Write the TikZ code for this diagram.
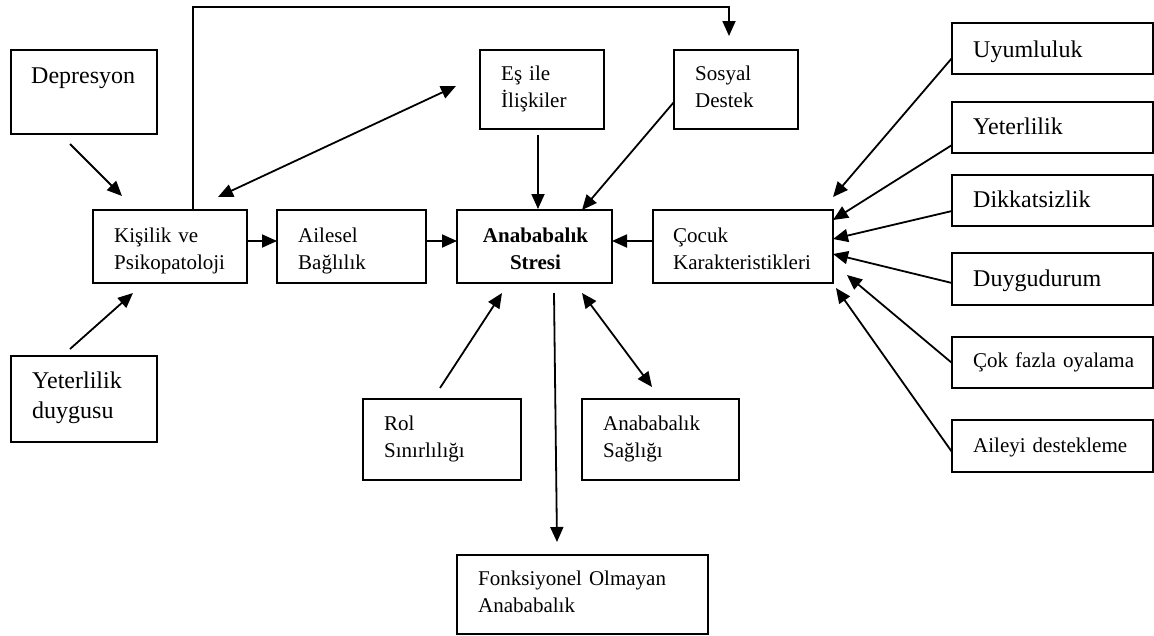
\documentclass[tikz,border=0pt]{standalone}
\usepackage{fontspec}
\setmainfont{Liberation Serif}
\usetikzlibrary{arrows.meta,calc}
\tikzset{
  box/.style={draw, line width=1.5pt, inner sep=0pt, outer sep=0pt, anchor=north west},
  small/.style={inner sep=0pt, anchor=base west, align=left, text width=230pt,
    font=\fontsize{21}{27.5}\selectfont},
  big/.style={inner sep=0pt, anchor=base west, align=left, text width=200pt,
    font=\fontsize{24}{30}\selectfont},
  conn/.style={line width=1.8pt, -{Triangle[length=15pt,width=13pt]}},
  bothconn/.style={line width=1.8pt, {Triangle[length=15pt,width=13pt]}-{Triangle[length=15pt,width=13pt]}},
}
\begin{document}
\begin{tikzpicture}[x=1pt,y=-1pt]
\useasboundingbox (0,0) rectangle (1154,635);

% boxes
\node[box, minimum width=146pt, minimum height=84pt] (dep) at (11,50) {};
\node[box, minimum width=154pt, minimum height=73pt] (kis) at (93,210) {};
\node[box, minimum width=149pt, minimum height=73pt] (ail) at (277,210) {};
\node[box, minimum width=155pt, minimum height=73pt] (ana) at (457,210) {};
\node[box, minimum width=180pt, minimum height=73pt] (coc) at (653,210) {};
\node[box, minimum width=124pt, minimum height=79pt] (es) at (480,50) {};
\node[box, minimum width=124pt, minimum height=79pt] (sos) at (674,50) {};
\node[box, minimum width=201pt, minimum height=51pt] (uy) at (952,23) {};
\node[box, minimum width=201pt, minimum height=51pt] (ye) at (952,102) {};
\node[box, minimum width=201pt, minimum height=51pt] (di) at (952,175) {};
\node[box, minimum width=201pt, minimum height=52pt] (du) at (952,253) {};
\node[box, minimum width=201pt, minimum height=51pt] (cf) at (952,337) {};
\node[box, minimum width=201pt, minimum height=52pt] (ad) at (952,420) {};
\node[box, minimum width=146pt, minimum height=86pt] (yd) at (11,356) {};
\node[box, minimum width=158pt, minimum height=81pt] (rol) at (363,399) {};
\node[box, minimum width=157pt, minimum height=81pt] (sag) at (582,399) {};
\node[box, minimum width=251pt, minimum height=79pt] (fon) at (457,555) {};

% texts
\node[big] (dept) at (31,83) {Depresyon};
\node[small] (kist) at (114,242) {Kişilik ve\\Psikopatoloji};
\node[small] (ailt) at (298,242) {Ailesel\\Bağlılık};
\node[inner sep=0pt, anchor=base, align=center, text width=150pt,
  font=\fontsize{21}{27.5}\selectfont\bfseries] (anat) at (535.5,242) {Anababalık\\Stresi};
\node[small] (coct) at (673,242) {Çocuk\\Karakteristikleri};
\node[small] (est) at (501,80) {Eş ile\\İlişkiler};
\node[small] (sost) at (695,80) {Sosyal\\Destek};
\node[big] (uyt) at (973,57) {Uyumluluk};
\node[big] (yet) at (973,134) {Yeterlilik};
\node[big] (dit) at (973,207) {Dikkatsizlik};
\node[big] (dut) at (973,286) {Duygudurum};
\node[small] (cft) at (973,367) {Çok fazla oyalama};
\node[small] (adt) at (973,452) {Aileyi destekleme};
\node[big] (ydt) at (32,388) {Yeterlilik\\duygusu};
\node[small] (rolt) at (384,430) {Rol\\Sınırlılığı};
\node[small] (sagt) at (603,430) {Anababalık\\Sağlığı};
\node[small] (font) at (478,585) {Fonksiyonel Olmayan\\Anababalık};

% connectors
\draw[conn] ($(dep.south west)+(59,10)$) -- ($(kis.north west)+(29,-14)$);
\draw[conn] ($(yd.north west)+(59,-7)$) -- ($(kis.south west)+(40,10)$);
\draw[bothconn] ($(kis.north west)+(125,-13)$) -- ($(es.north west)+(-24,36)$);
\draw[conn] ($(kis.north east)+(0,31)$) -- ($(ail.north west)+(0,31)$);
\draw[conn] ($(ail.north east)+(0,31)$) -- ($(ana.north west)+(0,31)$);
\draw[conn] ($(coc.north west)+(0,31)$) -- ($(ana.north east)+(0,31)$);
\draw[conn] ($(es.south west)+(58,6)$) -- ($(ana.north west)+(81,-1)$);
\draw[conn] ($(sos.north west)+(0,52)$) -- ($(ana.north west)+(125,0)$);
\coordinate (loopend) at ($(sos.north west)+(55,-14)$);
\draw[conn] ($(kis.north west)+(100,0)$) -- ++(0,-203) -| (loopend);
\draw[conn] ($(rol.north west)+(77,-11)$) -- ($(ana.south west)+(45,10)$);
\draw[conn] ($(ana.south west)+(97,10)$) -- ($(fon.north west)+(100,-13)$);
\draw[bothconn] ($(ana.south west)+(125,10)$) -- ($(sag.north west)+(70,-12)$);
\draw[conn] ($(uy.north west)+(0,35)$) -- ($(coc.north east)+(0,-13)$);
\draw[conn] ($(ye.north west)+(0,43)$) -- ($(coc.north east)+(0,10)$);
\draw[conn] ($(di.north west)+(0,36)$) -- ($(coc.north east)+(0,29)$);
\draw[conn] ($(du.north west)+(0,30)$) -- ($(coc.north east)+(0,44)$);
\draw[conn] ($(cf.north west)+(0,26)$) -- ($(coc.north east)+(14,65)$);
\draw[conn] ($(ad.north west)+(0,32)$) -- ($(coc.south east)+(3,5)$);
\end{tikzpicture}
\end{document}
